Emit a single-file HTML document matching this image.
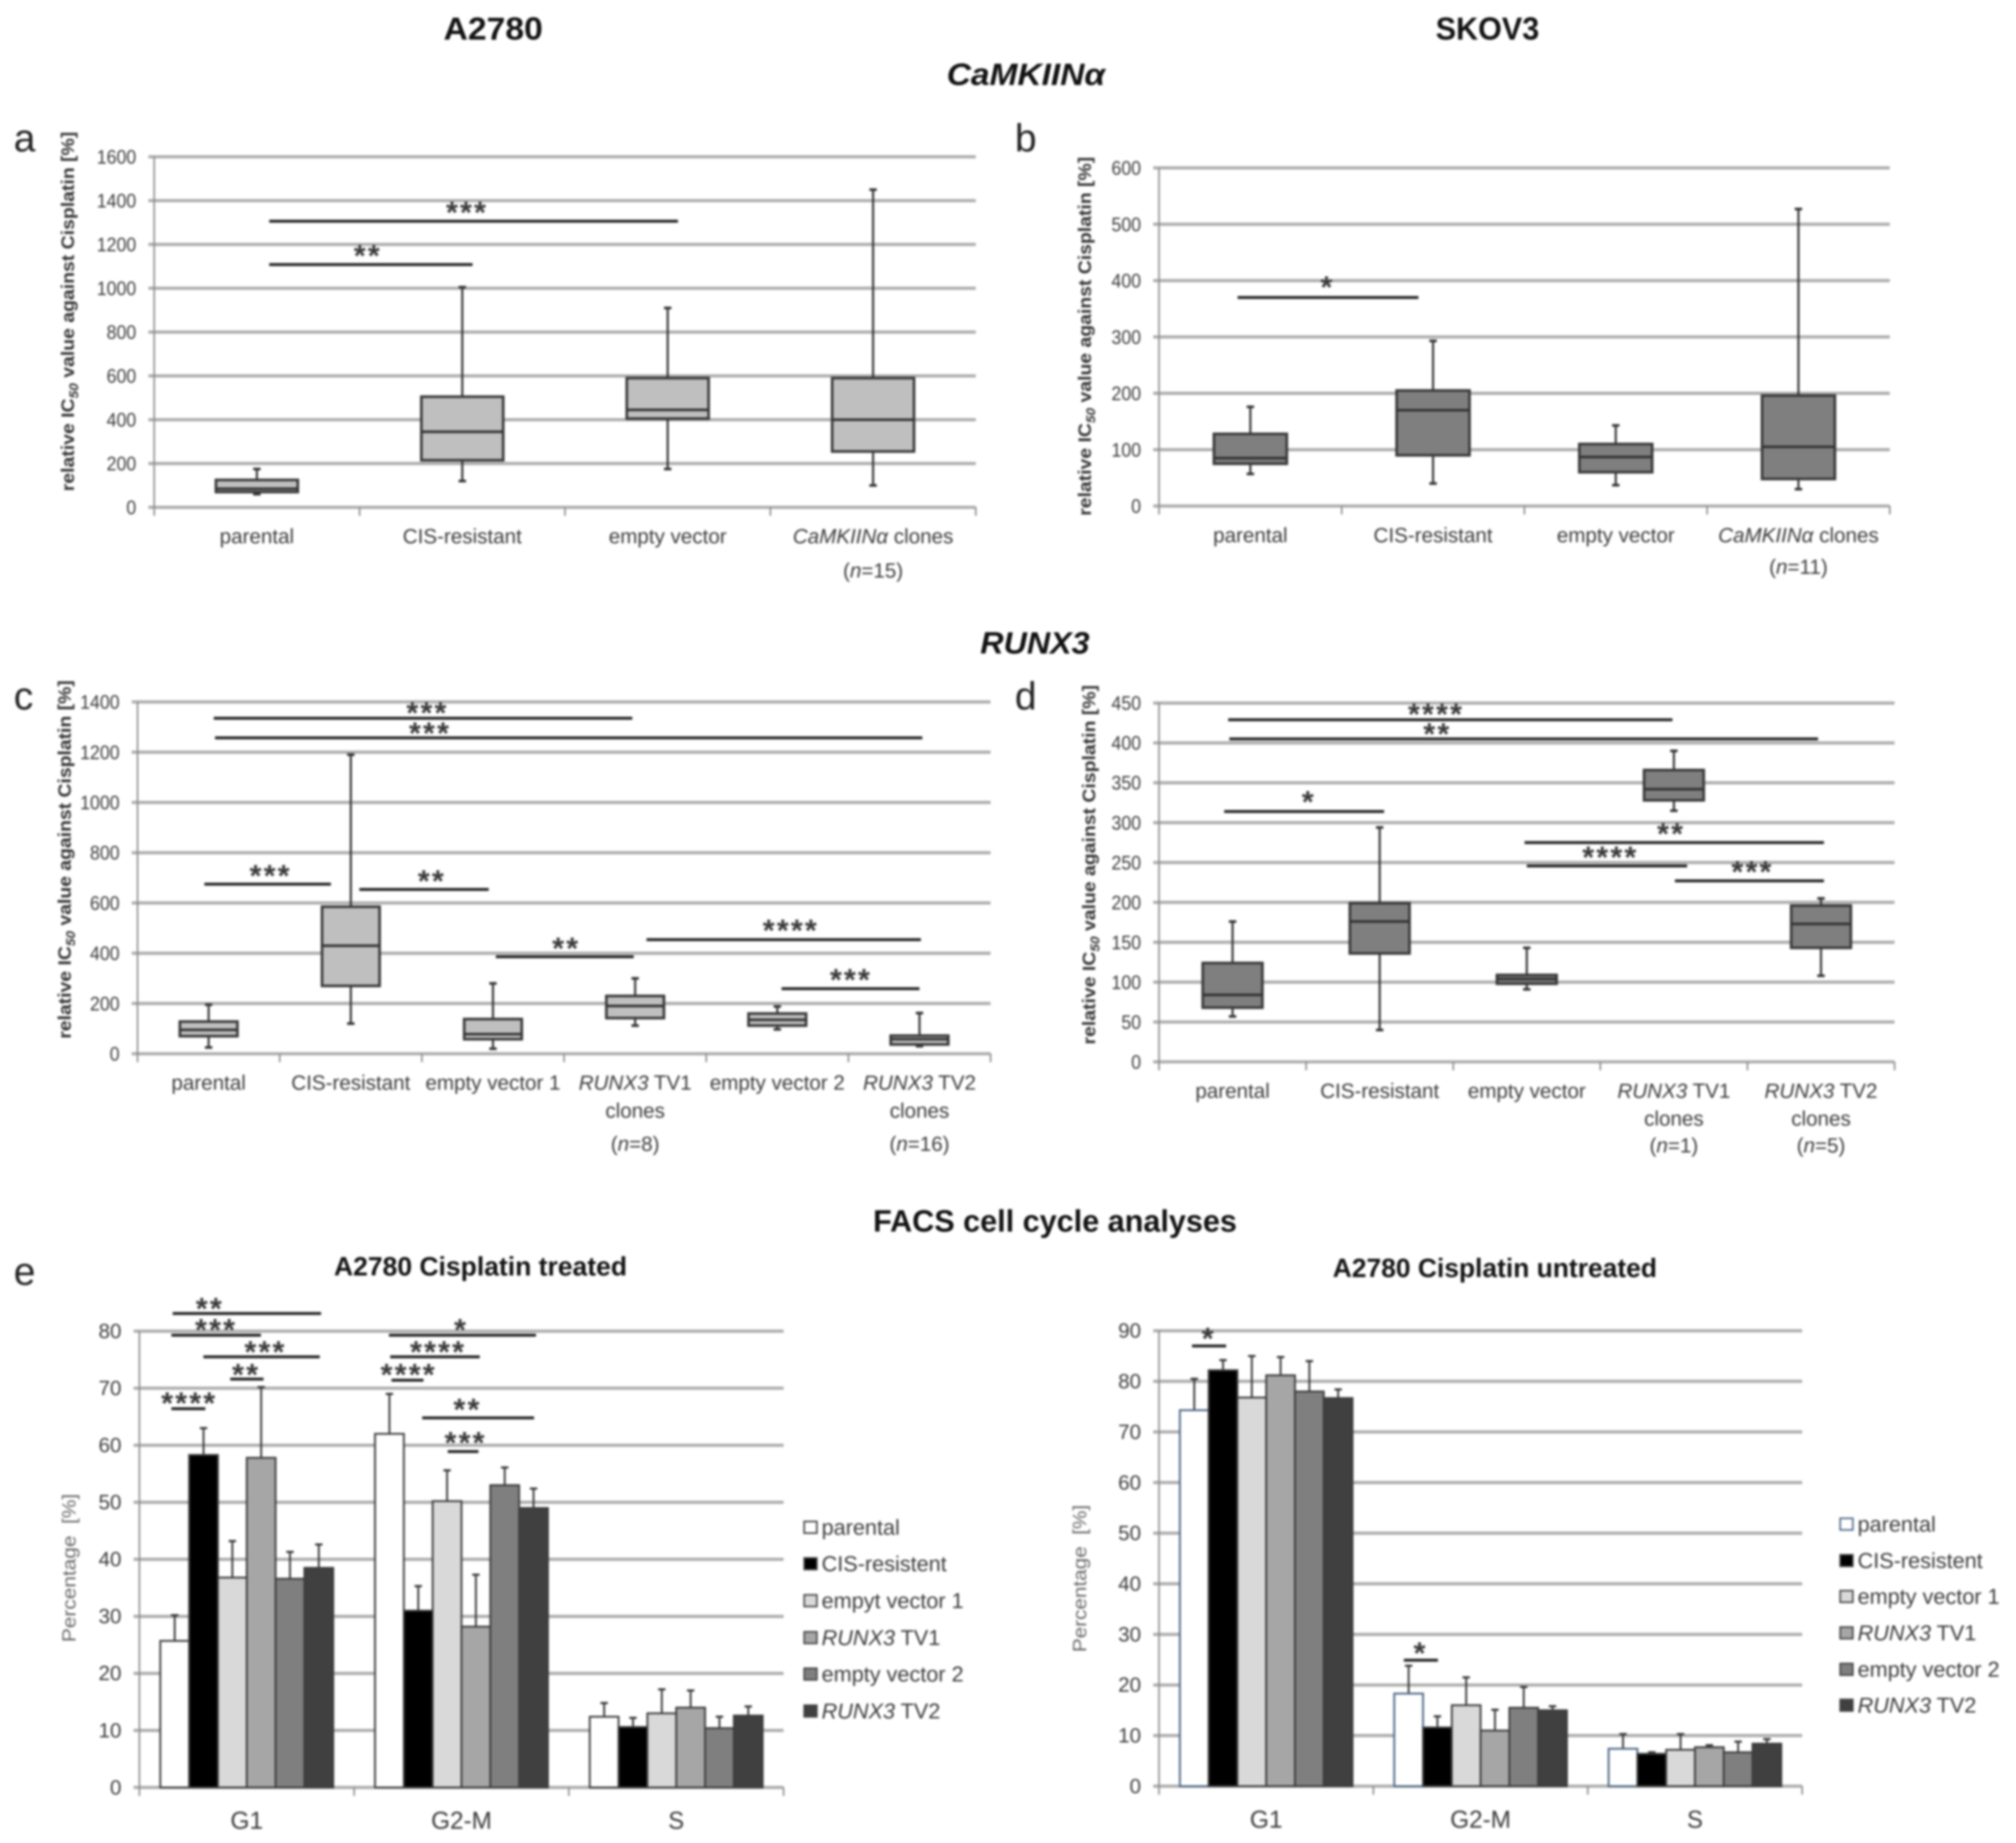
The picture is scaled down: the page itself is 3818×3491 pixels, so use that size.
<!DOCTYPE html>
<html lang="en">
<head>
<meta charset="utf-8">
<title>IC50 and FACS cell cycle analyses</title>
<style>
html,body{margin:0;padding:0;background:#fff;width:3818px;height:3491px;overflow:hidden}
svg{display:block;filter:blur(2px)}
text{font-family:"Liberation Sans",sans-serif;fill:#3a3a3a}
.head{font-weight:700;fill:#111}
.letter{font-size:74px;fill:#222}
.ytitle{font-weight:700;font-size:34px;fill:#333}
.ptitle{font-size:36px;fill:#666}
</style>
</head>
<body>
<svg id="figure" xmlns="http://www.w3.org/2000/svg" width="3818" height="3491" viewBox="0 0 3818 3491">
<rect width="3818" height="3491" fill="#fff"/>

<text class="head" x="934" y="75" font-size="60" text-anchor="middle" textLength="188" lengthAdjust="spacingAndGlyphs">A2780</text>
<text class="head" x="2817" y="75" font-size="60" text-anchor="middle" textLength="196" lengthAdjust="spacingAndGlyphs">SKOV3</text>
<text class="head" x="1943" y="161" font-size="58" font-style="italic" text-anchor="middle" textLength="300" lengthAdjust="spacingAndGlyphs">CaMKIINα</text>
<text class="head" x="1960" y="1238" font-size="58" font-style="italic" text-anchor="middle" textLength="207" lengthAdjust="spacingAndGlyphs">RUNX3</text>
<text class="head" x="1998" y="2333" font-size="58" text-anchor="middle" textLength="689" lengthAdjust="spacingAndGlyphs">FACS cell cycle analyses</text>
<text class="head" x="910" y="2416" font-size="50" text-anchor="middle" textLength="555" lengthAdjust="spacingAndGlyphs">A2780 Cisplatin treated</text>
<text class="head" x="2831" y="2419" font-size="50" text-anchor="middle" textLength="614" lengthAdjust="spacingAndGlyphs">A2780 Cisplatin untreated</text>

<text class="letter" x="26" y="287">a</text>
<text class="letter" x="1922" y="287">b</text>
<text class="letter" x="26" y="1344">c</text>
<text class="letter" x="1922" y="1344">d</text>
<text class="letter" x="26" y="2434">e</text>

<text class="ytitle" transform="translate(140,590) rotate(-90)" text-anchor="middle" textLength="681" lengthAdjust="spacingAndGlyphs">relative IC<tspan dy="8" font-size="24" font-style="italic">50</tspan><tspan dy="-8"> value against Cisplatin [%]</tspan></text>
<text class="ytitle" transform="translate(2066,637) rotate(-90)" text-anchor="middle" textLength="680" lengthAdjust="spacingAndGlyphs">relative IC<tspan dy="8" font-size="24" font-style="italic">50</tspan><tspan dy="-8"> value against Cisplatin [%]</tspan></text>
<text class="ytitle" transform="translate(134,1628) rotate(-90)" text-anchor="middle" textLength="679" lengthAdjust="spacingAndGlyphs">relative IC<tspan dy="8" font-size="24" font-style="italic">50</tspan><tspan dy="-8"> value against Cisplatin [%]</tspan></text>
<text class="ytitle" transform="translate(2074,1638) rotate(-90)" text-anchor="middle" textLength="681" lengthAdjust="spacingAndGlyphs">relative IC<tspan dy="8" font-size="24" font-style="italic">50</tspan><tspan dy="-8"> value against Cisplatin [%]</tspan></text>
<text class="ptitle" transform="translate(143,2970) rotate(-90)" text-anchor="middle" textLength="281" lengthAdjust="spacingAndGlyphs" xml:space="preserve">Percentage  [%]</text>
<text class="ptitle" transform="translate(2057,2990) rotate(-90)" text-anchor="middle" textLength="279" lengthAdjust="spacingAndGlyphs" xml:space="preserve">Percentage  [%]</text>

<g id="panel-a"></g>
<g id="panel-b"></g>
<g id="panel-c"></g>
<g id="panel-d"></g>
<g id="panel-e"></g>
<g id="panel-f"></g>
</svg>

<script>
// ---------- Panel a ----------
const aLabels = [["parental"], ["CIS-resistant"], ["empty vector"], ["_CaMKIINα_ clones", "(_n_=15)"]];
const aTicks = [0, 200, 400, 600, 800, 1000, 1200, 1400, 1600];
const aLow = [60, 120, 175, 100];
const aQ1 = [70, 215, 405, 255];
const aMedian = [85, 345, 445, 400];
const aQ3 = [125, 505, 590, 590];
const aHigh = [175, 1005, 910, 1450];
// from, to (category units), value, stars, star category, star value
const aSig = [[0.56, 2.55, 1306, "***", 1.523, 1360], [0.56, 1.55, 1108, "**", 1.04, 1163]];

// ---------- Panel b ----------
const bLabels = [["parental"], ["CIS-resistant"], ["empty vector"], ["_CaMKIINα_ clones", "(_n_=11)"]];
const bTicks = [0, 100, 200, 300, 400, 500, 600];
const bLow = [57, 40, 37, 30];
const bQ1 = [75, 90, 60, 48];
const bMedian = [85, 170, 87, 105];
const bQ3 = [128, 205, 110, 196];
const bHigh = [176, 293, 143, 527];
const bSig = [[0.43, 1.42, 370, "*", 0.922, 394]];

// ---------- Panel c ----------
const cLabels = [["parental"], ["CIS-resistant"], ["empty vector 1"], ["_RUNX3_ TV1", "clones", "(_n_=8)"], ["empty vector 2"], ["_RUNX3_ TV2", "clones", "(_n_=16)"]];
const cTicks = [0, 200, 400, 600, 800, 1000, 1200, 1400];
const cLow = [25, 120, 20, 112, 97, 30];
const cQ1 = [70, 270, 58, 142, 112, 37];
const cMedian = [95, 430, 78, 190, 135, 58];
const cQ3 = [128, 585, 138, 230, 160, 72];
const cHigh = [195, 1190, 280, 300, 188, 162];
const cSig = [
  [0.536, 3.48, 1335, "***", 2.039, 1369],
  [0.545, 5.52, 1257, "***", 2.057, 1288],
  [0.47, 1.36, 675, "***", 0.936, 721],
  [1.56, 2.47, 654, "**", 2.07, 700],
  [2.52, 3.49, 386, "**", 3.015, 432],
  [3.58, 5.51, 454, "****", 4.595, 503],
  [4.53, 5.5, 259, "***", 5.018, 307]
];

// ---------- Panel d ----------
const dLabels = [["parental"], ["CIS-resistant"], ["empty vector"], ["_RUNX3_ TV1", "clones", "(_n_=1)"], ["_RUNX3_ TV2", "clones", "(_n_=5)"]];
const dTicks = [0, 50, 100, 150, 200, 250, 300, 350, 400, 450];
const dLow = [57, 40, 91, 315, 108];
const dQ1 = [68, 136, 98, 328, 143];
const dMedian = [84, 176, 104, 342, 173];
const dQ3 = [124, 199, 109, 366, 196];
const dHigh = [176, 294, 143, 390, 205];
const dSig = [
  [0.47, 3.49, 429, "****", 1.883, 440],
  [0.478, 4.48, 405, "**", 1.892, 415],
  [0.443, 1.53, 314, "*", 1.018, 330],
  [2.485, 4.52, 275, "**", 3.481, 290],
  [2.5, 3.59, 245.7, "****", 3.068, 260.5],
  [3.507, 4.52, 227, "***", 4.034, 242.4]
];

// ---------- Panel e, treated ----------
const phases = ["G1", "G2-M", "S"];
const eTicks = [0, 10, 20, 30, 40, 50, 60, 70, 80];
const eSeries = ["parental", "CIS-resistent", "empyt vector 1", "_RUNX3_ TV1", "empty vector 2", "_RUNX3_ TV2"];
const eMeanG1 = [25.7, 58.3, 36.8, 57.8, 36.6, 38.5];
const eMeanG2M = [62, 31, 50.2, 28.2, 53, 49];
const eMeanS = [12.4, 10.6, 13, 14, 10.4, 12.6];
const eTopG1 = [30.2, 63, 43.2, 70.2, 41.3, 42.6];
const eTopG2M = [69, 35.3, 55.6, 37.3, 56.1, 52.4];
const eTopS = [14.8, 12.2, 17.2, 17, 12.4, 14.2];
const eSig = [
  [0.155, 0.846, 83.1, "**", 0.328, 84.5],
  [0.149, 0.566, 79.3, "***", 0.357, 80.8],
  [0.298, 0.84, 75.5, "***", 0.587, 76.9],
  [0.423, 0.578, 71.6, "**", 0.497, 72.9],
  [0.149, 0.307, 66.4, "****", 0.232, 67.9],
  [1.162, 1.847, 79.3, "*", 1.498, 80.8],
  [1.168, 1.585, 75.5, "****", 1.391, 76.9],
  [1.174, 1.323, 71.4, "****", 1.254, 72.9],
  [1.317, 1.838, 64.8, "**", 1.528, 66.8],
  [1.436, 1.579, 58.9, "***", 1.519, 61]
];

// ---------- Panel e, untreated ----------
const fTicks = [0, 10, 20, 30, 40, 50, 60, 70, 80, 90];
const fSeries = ["parental", "CIS-resistent", "empty vector 1", "_RUNX3_ TV1", "empty vector 2", "_RUNX3_ TV2"];
const fMeanG1 = [74.3, 82.2, 76.8, 81.2, 78, 76.7];
const fMeanG2M = [18.3, 11.6, 16, 11, 15.5, 15];
const fMeanS = [7.4, 6.4, 7.2, 7.7, 6.7, 8.4];
const fTopG1 = [80.5, 84.2, 85, 84.8, 84, 78.4];
const fTopG2M = [23.8, 13.8, 21.5, 15.1, 19.6, 15.8];
const fTopS = [10.3, 6.7, 10.3, 8.1, 8.8, 9.3];
const fSig = [
  [0.154, 0.313, 87, "*", 0.232, 89.1],
  [1.142, 1.301, 24.9, "*", 1.22, 26.9]
];

const seriesFill = ["#ffffff", "#000000", "#d9d9d9", "#a6a6a6", "#7f7f7f", "#404040"];

const NS = "http://www.w3.org/2000/svg";
function mk(parent, tag, attrs) {
  const n = document.createElementNS(NS, tag);
  for (const k in attrs) n.setAttribute(k, attrs[k]);
  parent.appendChild(n);
  return n;
}
function fillRich(node, str) {
  str.split("_").forEach(function (part, i) {
    if (!part) return;
    const t = document.createElementNS(NS, "tspan");
    if (i % 2 === 1) t.setAttribute("font-style", "italic");
    t.textContent = part;
    node.appendChild(t);
  });
}
function scales(c, ticks, n) {
  const max = ticks[ticks.length - 1];
  return {
    y: function (v) { return c.y0 - (v / max) * (c.y0 - c.yTop); },
    x: function (u) { return c.left + u * (c.right - c.left) / n; }
  };
}
function drawFrame(g, c, ticks, n, s) {
  ticks.forEach(function (t) {
    const line = mk(g, "line", { x1: c.left - 11, x2: c.right, y1: s.y(t), y2: s.y(t), stroke: "#adadad", "stroke-width": 6 });
    
    
    const label = mk(g, "text", { x: c.left - 34, y: s.y(t) + 13, "text-anchor": "end", "font-size": c.tickFont, fill: "#555", textLength: String(t).length * c.digitW, lengthAdjust: "spacingAndGlyphs" });
    
    
    label.textContent = t;
  });
  const axis = mk(g, "line", { x1: c.left, x2: c.left, y1: c.yTop, y2: c.y0 + 16, stroke: "#8a8a8a", "stroke-width": 3 });
  
  
  for (let i = 0; i <= n; i++) {
    const tick = mk(g, "line", { x1: s.x(i), x2: s.x(i), y1: c.y0, y2: c.y0 + 16, stroke: "#8a8a8a", "stroke-width": 3 });
    
    
  }
}
function drawSig(g, sig, s) {
  sig.forEach(function (r) {
    const bar = mk(g, "line", { x1: s.x(r[0]), x2: s.x(r[1]), y1: s.y(r[2]), y2: s.y(r[2]), stroke: "#222", "stroke-width": 5.5 });
    
    
    const star = mk(g, "text", { x: s.x(r[4]), y: s.y(r[5]) + 26, "text-anchor": "middle", "font-size": 58, "font-weight": 700, "letter-spacing": 4, fill: "#222" });
    
    
    star.textContent = r[3];
  });
}
function drawBoxplot(id, c, labels, ticks, low, q1, med, q3, high, sig) {
  const g = document.getElementById(id);
  const n = labels.length;
  const s = scales(c, ticks, n);
  drawFrame(g, c, ticks, n, s);
  labels.forEach(function (lines, i) {
    const cx = s.x(i + 0.5);
    lines.forEach(function (line, j) {
      const t = mk(g, "text", { x: cx, y: c.lineY[j], "text-anchor": "middle", "font-size": 39, fill: "#444" });
      
      
      fillRich(t, line);
    });
    const whiskerLow = mk(g, "line", { x1: cx, x2: cx, y1: s.y(low[i]), y2: s.y(q1[i]), stroke: "#333", "stroke-width": 4 });
    
    
    const whiskerHigh = mk(g, "line", { x1: cx, x2: cx, y1: s.y(q3[i]), y2: s.y(high[i]), stroke: "#333", "stroke-width": 4 });
    
    
    const capLow = mk(g, "line", { x1: cx - 7, x2: cx + 7, y1: s.y(low[i]), y2: s.y(low[i]), stroke: "#333", "stroke-width": 5 });
    
    
    const capHigh = mk(g, "line", { x1: cx - 7, x2: cx + 7, y1: s.y(high[i]), y2: s.y(high[i]), stroke: "#333", "stroke-width": 5 });
    
    
    const box = mk(g, "rect", { x: cx - c.boxW / 2, y: s.y(q3[i]), width: c.boxW, height: s.y(q1[i]) - s.y(q3[i]), fill: c.fill, stroke: "#383838", "stroke-width": 5 });
    
    
    const median = mk(g, "line", { x1: cx - c.boxW / 2, x2: cx + c.boxW / 2, y1: s.y(med[i]), y2: s.y(med[i]), stroke: "#333", "stroke-width": 5 });
    
    
  });
  drawSig(g, sig, s);
}
function drawBars(id, c, ticks, means, tops, series, sig) {
  const g = document.getElementById(id);
  const n = phases.length;
  const s = scales(c, ticks, n);
  drawFrame(g, c, ticks, n, s);
  const groupW = (c.right - c.left) / n;
  const barW = groupW / 7.45;
  const pad = (groupW - 6 * barW) / 2;
  phases.forEach(function (name, gi) {
    const label = mk(g, "text", { x: s.x(gi + 0.5), y: c.lineY[0], "text-anchor": "middle", "font-size": 46, fill: "#444", textLength: name.length === 1 ? 30 : (name.length === 2 ? 62 : 115), lengthAdjust: "spacingAndGlyphs" });
    
    
    label.textContent = name;
    means[gi].forEach(function (v, i) {
      const x = s.x(gi) + pad + i * barW;
      const cx = x + barW / 2;
      const err = mk(g, "line", { x1: cx, x2: cx, y1: s.y(v), y2: s.y(tops[gi][i]), stroke: "#333", "stroke-width": 3.5 });
      
      
      const cap = mk(g, "line", { x1: cx - 7, x2: cx + 7, y1: s.y(tops[gi][i]), y2: s.y(tops[gi][i]), stroke: "#333", "stroke-width": 4 });
      
      
      const bar = mk(g, "rect", { x: x, y: s.y(v), width: barW, height: s.y(0) - s.y(v), fill: seriesFill[i], stroke: i === 0 ? c.firstStroke : "#3c3c3c", "stroke-width": 3.5 });
      
      
    });
  });
  series.forEach(function (name, i) {
    const swatch = mk(g, "rect", { x: c.legendX, y: c.legendY[i] - 11, width: 24, height: 22, fill: seriesFill[i], stroke: i === 0 ? c.firstStroke : "#444", "stroke-width": 3 });
    
    
    const t = mk(g, "text", { x: c.legendX + 33, y: c.legendY[i] + 14, "font-size": 41, fill: "#444" });
    
    
    fillRich(t, name);
  });
  drawSig(g, sig, s);
}

drawBoxplot("panel-a", { left: 292, right: 1848, yTop: 297, y0: 961, boxW: 155, fill: "#bfbfbf", tickFont: 37, digitW: 18.7, lineY: [1029, 1094] },
  aLabels, aTicks, aLow, aQ1, aMedian, aQ3, aHigh, aSig);
drawBoxplot("panel-b", { left: 2195, right: 3579, yTop: 318, y0: 958.5, boxW: 138, fill: "#7f7f7f", tickFont: 37, digitW: 18.7, lineY: [1027, 1087] },
  bLabels, bTicks, bLow, bQ1, bMedian, bQ3, bHigh, bSig);
drawBoxplot("panel-c", { left: 260.5, right: 1876, yTop: 1329.6, y0: 1996, boxW: 109, fill: "#bfbfbf", tickFont: 37, digitW: 18.7, lineY: [2064, 2117, 2180] },
  cLabels, cTicks, cLow, cQ1, cMedian, cQ3, cHigh, cSig);
drawBoxplot("panel-d", { left: 2195, right: 3588, yTop: 1331.7, y0: 2011.4, boxW: 113, fill: "#7f7f7f", tickFont: 37, digitW: 18.7, lineY: [2079.5, 2132, 2183] },
  dLabels, dTicks, dLow, dQ1, dMedian, dQ3, dHigh, dSig);
drawBars("panel-e", { left: 264, right: 1484, yTop: 2521.5, y0: 3385.8, tickFont: 39, digitW: 21.7, firstStroke: "#3c3c3c", lineY: [3464], legendX: 1523, legendY: [2893, 2962, 3032, 3102, 3171, 3241] },
  eTicks, [eMeanG1, eMeanG2M, eMeanS], [eTopG1, eTopG2M, eTopS], eSeries, eSig);
drawBars("panel-f", { left: 2195, right: 3413, yTop: 2520.7, y0: 3383.4, tickFont: 39, digitW: 21.7, firstStroke: "#4a6583", lineY: [3462], legendX: 3485, legendY: [2887, 2956, 3024, 3093, 3162, 3230] },
  fTicks, [fMeanG1, fMeanG2M, fMeanS], [fTopG1, fTopG2M, fTopS], fSeries, fSig);
</script>
</body>
</html>
